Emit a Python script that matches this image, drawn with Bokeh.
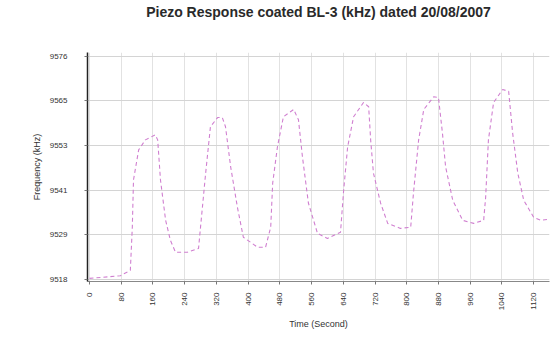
import math
from bokeh.plotting import figure
from bokeh.models import FixedTicker, Range1d, Title
from bokeh.embed import file_html
from bokeh.resources import INLINE

# Data
time_s = [0, 78, 103, 108, 111, 124, 141, 166, 172, 179, 192, 204, 217, 247, 275,
          280, 293, 305, 323, 335, 343, 356, 373, 388, 406, 424, 444,
          457, 462, 474, 489, 515, 527, 537, 552, 575, 600, 633,
          641, 651, 666, 691, 704, 709, 716, 734, 752, 784, 810,
          817, 830, 843, 868, 880, 890, 898, 916, 941, 969, 994,
          999, 1006, 1019, 1042, 1057, 1067, 1080, 1095, 1120, 1138, 1160]
freq_khz = [9518.3, 9519.0, 9520.4, 9531.6, 9543.9, 9551.7, 9554.3, 9555.6, 9554.3, 9543.9,
            9533.4, 9528.2, 9525.1, 9525.1, 9526.1,
            9531.6, 9545.7, 9557.7, 9560.1, 9560.1, 9557.7, 9547.3, 9536.8, 9529.0, 9527.7,
            9526.4, 9526.4,
            9531.6, 9543.1, 9552.5, 9560.3, 9562.2, 9559.5, 9549.9, 9537.9, 9530.0, 9528.7, 9530.3,
            9541.3, 9552.5, 9560.3, 9564.0, 9562.9, 9554.3, 9545.7, 9537.9, 9532.6, 9531.3, 9531.6,
            9540.5, 9554.3, 9562.2, 9565.5, 9565.3, 9556.1, 9547.3, 9538.6, 9533.4, 9532.6, 9533.4,
            9539.4, 9554.3, 9564.0, 9567.4, 9566.9, 9556.1, 9545.7, 9538.6, 9534.2, 9533.4, 9533.7]

x_ticks = [0, 80, 160, 240, 320, 400, 480, 560, 640, 720, 800, 880, 960, 1040, 1120]
y_ticks = [9518, 9529.6, 9541.2, 9552.8, 9564.4, 9576]
y_tick_labels = ["9518", "9529", "9541", "9553", "9565", "9576"]

p = figure(width=551, height=335, output_backend="svg", toolbar_location=None,
           x_range=Range1d(-5, 1160), y_range=Range1d(9517.5, 9577),
           min_border_left=87, min_border_right=2, min_border_top=40, min_border_bottom=54)

# spacer first (closest to plot), then the title above it
p.add_layout(Title(text=" ", text_font_size="14px", standoff=14), "above")
p.add_layout(Title(text="Piezo Response coated BL-3 (kHz) dated 20/08/2007",
                   align="center", text_font="Liberation Sans", text_font_size="14px",
                   text_font_style="bold", text_color="#2a2a2a", standoff=2), "above")

p.line(time_s, freq_khz, line_color="#d07fd0", line_width=1.1, line_dash="4 3")

p.xaxis.ticker = FixedTicker(ticks=x_ticks)
p.yaxis.ticker = FixedTicker(ticks=y_ticks)
p.yaxis.major_label_overrides = {t: l for t, l in zip(y_ticks, y_tick_labels)}
p.xaxis.major_label_orientation = math.pi / 2

for ax in (p.xaxis, p.yaxis):
    ax.major_label_text_font = "Liberation Sans"
    ax.major_label_text_font_size = "8px"
    ax.major_label_text_color = "#333333"
    ax.axis_label_text_font = "Liberation Sans"
    ax.axis_label_text_font_size = "9px"
    ax.axis_label_text_font_style = "normal"
    ax.axis_label_text_color = "#333333"
    ax.minor_tick_line_color = None
    ax.major_tick_out = 3
    ax.major_tick_in = 0
    ax.major_tick_line_color = "#777777"

p.xaxis.axis_label = "Time (Second)"
p.yaxis.axis_label = "Frequency (kHz)"
p.xaxis.axis_line_color = "#888888"
p.yaxis.axis_line_color = "#222222"
p.yaxis.axis_line_width = 1.5
p.yaxis.major_label_standoff = 17
p.yaxis.axis_label_standoff = 5
p.xaxis.major_label_standoff = 8
p.xaxis.axis_label_standoff = 6

p.ygrid.grid_line_color = "#d4d4d4"
p.xgrid.grid_line_color = "#e2e2e2"
p.outline_line_color = None
p.background_fill_color = "white"
p.border_fill_color = "white"

open("out.html", "w").write(file_html(p, INLINE))
